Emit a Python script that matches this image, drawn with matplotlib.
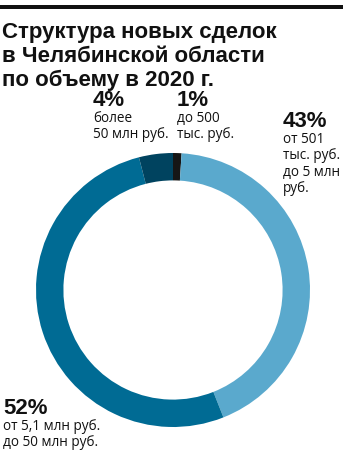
import matplotlib.pyplot as plt

# данные
shares = [1, 43, 52, 4]
pct_labels = ['1%', '43%', '52%', '4%']
descriptions = ['до 500\nтыс. руб.', 'от 501\nтыс. руб.\nдо 5 млн\nруб.',
                'от 5,1 млн руб.\nдо 50 млн руб.', 'более\n50 млн руб.']
colors = ['#161616', '#5aa9cd', '#006b94', '#00435f']
title = 'Структура новых сделок\nв Челябинской области\nпо объему в 2020 г.'

W, H = 351, 461
fig = plt.figure(figsize=(W / 100, H / 100), dpi=100)


def fx(px):
    return px / W


def fy(py):
    return 1 - py / H


# черная полоса сверху
fig.add_artist(plt.Rectangle((0, fy(9)), fx(343), 4 / H, color='#111111', lw=0))

# заголовок
for i, line in enumerate(title.split('\n')):
    fig.text(fx(2), fy(38 + i * 24), line, fontsize=16, fontweight='bold',
             family='Liberation Sans', color='#111111', va='baseline')

# кольцо
cx, cy, r = 173, 290, 137
ax = fig.add_axes([fx(cx - r), fy(cy + r), 2 * r / W, 2 * r / H])
ax.pie(shares, colors=colors, startangle=90, counterclock=False,
       wedgeprops=dict(width=0.2, linewidth=0))
ax.set_xlim(-1, 1)
ax.set_ylim(-1, 1)
ax.set_aspect('auto')
ax.axis('off')

# подписи: x, базовая линия процента
label_pos = [(177, 106), (283, 127), (3, 414), (93, 106)]
for (x, y), p, d in zip(label_pos, pct_labels, descriptions):
    fig.text(fx(x), fy(y), p, fontsize=16, fontweight='bold', family='Liberation Sans',
             color='#111111', va='baseline')
    for j, line in enumerate(d.split('\n')):
        fig.text(fx(x), fy(y + 16 + j * 16.3), line, fontsize=9.8,
                 family='Open Sans', color='#111111', va='baseline')

fig.savefig('out.png', dpi=100)
